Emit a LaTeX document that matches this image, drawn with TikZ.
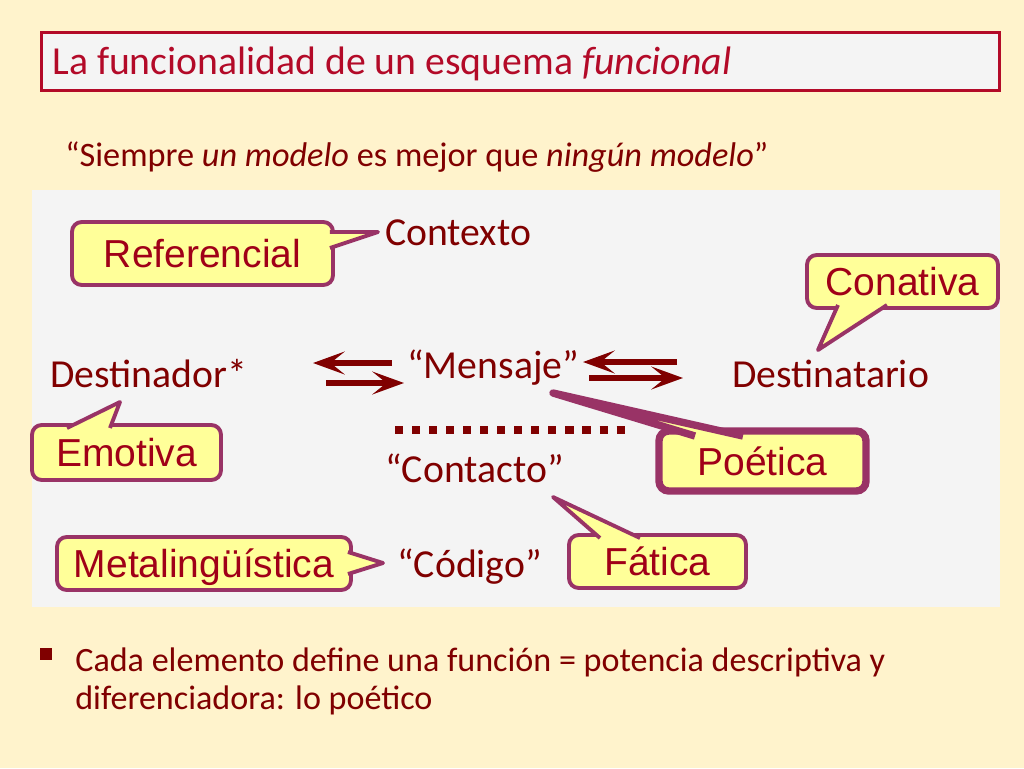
\documentclass[tikz,border=0pt]{standalone}
\usepackage{fontspec}
\setmainfont{Carlito}
\newfontfamily\bubblefont{Liberation Sans}
\usetikzlibrary{arrows.meta,calc}
\definecolor{slidebg}{HTML}{FFF3CC}
\definecolor{panelgray}{HTML}{F4F4F4}
\definecolor{maroon}{HTML}{800000}
\definecolor{titlered}{HTML}{B30A28}
\definecolor{bubbleline}{HTML}{993366}
\definecolor{bubblefill}{HTML}{FFFF99}
\definecolor{bubbletext}{HTML}{A00018}
\begin{document}
\begin{tikzpicture}[x=0.02cm,y=-0.02cm,
  lbl/.style={anchor=base west,inner sep=0pt,text=maroon,font=\fontsize{22.6}{26}\selectfont},
  bubble/.style={draw=bubbleline,fill=bubblefill,line width=2.2pt,rounded corners=5.5pt,
    outer sep=0pt,inner sep=0pt,text height=16pt,text depth=0pt,text=bubbletext,
    font=\bubblefont\fontsize{22.2}{26}\selectfont},
  tail/.style={draw=bubbleline,fill=bubblefill,line width=2.2pt,line join=round},
  flow/.style={draw=maroon,line width=3.4pt,-{Stealth[length=18pt,width=13pt,inset=8pt]}}]
% slide, title and panel
\fill[slidebg] (0,0) rectangle (1024,768);
\useasboundingbox (0,0) rectangle (1024,768);
\draw[titlered,fill=panelgray,line width=1.7pt] (41.5,32.5) rectangle (999.5,90.5);
\node[anchor=base west,inner sep=0pt,text=titlered,font=\fontsize{22.6}{26}\selectfont] (title) at (52,74)
  {La funcionalidad de un esquema \textit{funcional}};
\node[anchor=base west,inner sep=0pt,text=maroon,font=\fontsize{19.5}{23}\selectfont] (quote) at (65,166)
  {“Siempre \textit{un modelo} es mejor que \textit{ningún modelo}”};
\fill[panelgray] (32,190) rectangle (1000,607);
% elements
\node[lbl] (ctx) at (385,245) {Contexto};
\node[lbl] (dsr) at (50,387) {Destinador*};
\node[lbl] (msg) at (407,378) {“Mensaje”};
\node[lbl] (dst) at (732,387) {Destinatario};
\node[lbl] (ctc) at (385,482) {“Contacto”};
\node[lbl] (cod) at (397,577) {“Código”};
\draw[flow] ($(msg.base west)+(-15,-15)$) -- ($(msg.base west)+(-94,-15)$);
\draw[flow] ($(msg.base west)+(-81,5)$) -- ($(msg.base west)+(-3,5)$);
\draw[flow] ($(dst.base west)+(-55,-25)$) -- ($(dst.base west)+(-149,-25)$);
\draw[flow] ($(dst.base west)+(-143,-9)$) -- ($(dst.base west)+(-49,-9)$);
\draw[maroon,line width=4.6pt,dash pattern=on 4.6pt off 5.1pt]
  ($(ctc.base west)+(10,-52)$) -- ($(ctc.base west)+(248,-52)$);
% functions
\node[bubble,minimum width=5.22cm,minimum height=1.26cm] (ref) at (202.5,253.5) {Referencial};
\coordinate (refTip) at (378,232);
\path[tail] ($(ref.east)+(-3,-21.5)$) -- (refTip) -- ($(ref.east)+(-3,-5.5)$);
\node[bubble,minimum width=3.82cm,minimum height=1.06cm] (con) at (902.5,281.5) {Conativa};
\coordinate (conTip) at (818,350);
\path[tail] ($(con.south)+(-64.5,-3)$) -- (conTip) -- ($(con.south)+(-15.5,-3)$);
\node[bubble,minimum width=3.78cm,minimum height=1.1cm] (emo) at (126.5,452.5) {Emotiva};
\coordinate (emoTip) at (120,402);
\path[tail] ($(emo.north)+(-59.5,3)$) -- (emoTip) -- ($(emo.north)+(-16.5,3)$);
\node[bubble,line width=4.2pt,minimum width=4.14cm,minimum height=1.2cm] (poe) at (762.5,461) {Poética};
\coordinate (poeTip) at (553,393);
\path[tail,line width=4.2pt] ($(poe.north)+(-67.5,5)$) -- (poeTip) -- ($(poe.north)+(-19.5,5)$);
\node[bubble,minimum width=3.54cm,minimum height=1.06cm] (fat) at (657.5,561.5) {Fática};
\coordinate (fatTip) at (553,497);
\path[tail] ($(fat.north)+(-57.5,3)$) -- (fatTip) -- ($(fat.north)+(-17.5,3)$);
\node[bubble,minimum width=5.88cm,minimum height=1.06cm] (meta) at (204,563.5) {Metalingüística};
\coordinate (metaTip) at (383,563);
\path[tail] ($(meta.east)+(-3,-11.5)$) -- (metaTip) -- ($(meta.east)+(-3,10.5)$);
% note
\fill[maroon] (40,648) rectangle (52,660);
\node[anchor=base west,inner sep=0pt,text=maroon,font=\fontsize{19.4}{23}\selectfont] (note1) at (75,671)
  {Cada elemento define una función = potencia descriptiva y};
\node[anchor=base west,inner sep=0pt,text=maroon,font=\fontsize{19.4}{23}\selectfont] (note2)
  at ($(note1.base west)+(0,38)$) {diferenciadora: lo poético};
\end{tikzpicture}
\end{document}
